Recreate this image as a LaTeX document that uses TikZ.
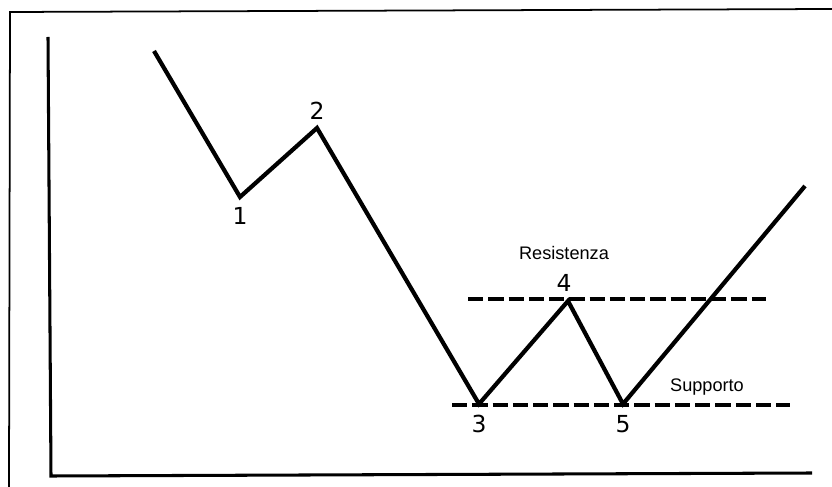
\documentclass[tikz,border=0pt]{standalone}
\usepackage{fontspec}
\setmainfont{Liberation Sans}
\newfontfamily\digitfont{DejaVu Sans}
\usetikzlibrary{positioning}

\begin{document}
\begin{tikzpicture}[
  x=0.03cm, y=-0.03cm,
  node distance=0.12cm,
  frameline/.style={line width=1.5pt},
  axisline/.style={line width=2.6pt},
  price/.style={line width=3.6pt, line join=miter},
  level/.style={line width=2.8pt, dash pattern=on 13pt off 4.3pt},
  num/.style={font=\digitfont\fontsize{20}{20}\selectfont, inner sep=1pt},
  word/.style={font=\fontsize{15.5}{15.5}\selectfont, inner sep=1pt}
]
  \useasboundingbox (0,0) rectangle (832,487);
  % frame (cut at right and bottom)
  \coordinate (fb) at (9,487);
  \coordinate (fc) at (10,12);
  \coordinate (fr) at (832,9);
  \draw[frameline] (fb) -- (fc) -- (fr);
  % axes
  \coordinate (ytop) at (48,37);
  \coordinate (orig) at (51,476);
  \coordinate (xend) at (812,473);
  \draw[axisline] (ytop) -- (orig) -- (xend);
  % price path
  \coordinate (p0) at (154,51);
  \coordinate (p1) at (240,197);
  \coordinate (p2) at (317,128);
  \coordinate (p3) at (479,404);
  \coordinate (p4) at (568,301);
  \coordinate (p5) at (623,404);
  \coordinate (p6) at (805,186);
  \draw[price] (p0) -- (p1) -- (p2) -- (p3) -- (p4) -- (p5) -- (p6);
  % resistance and support
  \coordinate (r1) at (468,299);
  \coordinate (r2) at (766,299);
  \coordinate (s1) at (452,405);
  \coordinate (s2) at (790,405);
  \draw[level] (r1) -- (r2);
  \draw[level] (s1) -- (s2);
  % labels
  \node[num, below=0.28cm of p1] (l1) {1};
  \node[num, above=0.22cm of p2] (l2) {2};
  \node[num, below=0.3cm of p3] (l3) {3};
  \node[num, above=0.25cm of p4, xshift=-0.12cm] (l4) {4};
  \node[num, below=0.3cm of p5] (l5) {5};
  \node[word, above=0.35cm of l4] (res) {Resistenza};
  \node[word] (sup) at (707,387) {Supporto};
\end{tikzpicture}
\end{document}
